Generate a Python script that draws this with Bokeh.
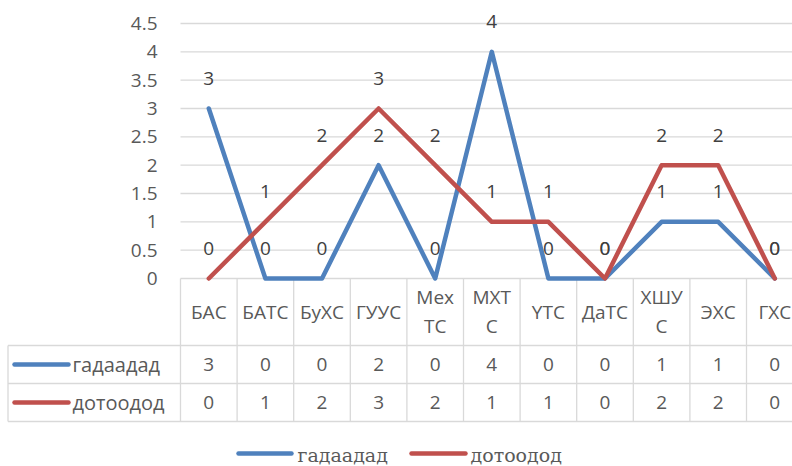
from bokeh.plotting import figure
from bokeh.models import Range1d
from bokeh.core.properties import value
from bokeh.embed import file_html
from bokeh.resources import INLINE

# ---- data ----
categories = ["БАС", "БАТС", "БуХС", "ГУУС", "Мех\nТС", "МХТ\nС", "ҮТС", "ДаТС", "ХШУ\nС", "ЭХС", "ГХС"]
series_names = ["гадаадад", "дотоодод"]
gadaadad = [3, 0, 0, 2, 0, 4, 0, 0, 1, 1, 0]
dotoodod = [0, 1, 2, 3, 2, 1, 1, 0, 2, 2, 0]
y_ticks = [0, 0.5, 1, 1.5, 2, 2.5, 3, 3.5, 4, 4.5]
y_tick_labels = ["0", "0.5", "1", "1.5", "2", "2.5", "3", "3.5", "4", "4.5"]

# ---- style / layout ----
BLUE = "#4f81bd"
RED = "#c0504d"
GRID = "#d9d9d9"
AXIS_TXT = "#595959"
LBL_TXT = "#404040"
FONT = "Open Sans"
SERIF = "DejaVu Serif"
FS = "19px"

FIG_W, FIG_H = 792, 466
ORIGIN = 0   # page pixel where the figure starts
PX = 56.6    # px per category
PY = 56.67   # px per value unit
FRAME_LEFT_PAGE = 180
ZERO_PAGE = 278

x_start = -0.5 - (FRAME_LEFT_PAGE - ORIGIN) / PX
x_end = x_start + FIG_W / PX
y_end = (ZERO_PAGE - ORIGIN) / PY
y_start = y_end - FIG_H / PY


def fx(page_x):
    return x_start + (page_x - ORIGIN) / PX


def fy(page_y):
    return y_end - (page_y - ORIGIN) / PY


p = figure(width=FIG_W, height=FIG_H, output_backend="svg", toolbar_location=None,
           x_range=Range1d(x_start, x_end), y_range=Range1d(y_start, y_end),
           min_border=0)
p.axis.visible = False
p.grid.visible = False
p.outline_line_color = None
p.background_fill_color = "white"
p.border_fill_color = "white"

n = len(categories)
idx = list(range(n))

# gridlines
p.segment(x0=[-0.5] * len(y_ticks), x1=[x_end + 1] * len(y_ticks), y0=y_ticks, y1=y_ticks,
          line_color=GRID, line_width=1.3)
# y tick labels
p.text(x=[fx(157)] * len(y_ticks), y=y_ticks, text=y_tick_labels, text_align="right",
       text_baseline="middle", text_font=value(FONT), text_font_size=FS, text_color=AXIS_TXT)

# table lines
row_tops = [fy(345), fy(383), fy(421)]
p.segment(x0=[k - 0.5 for k in range(n + 1)], x1=[k - 0.5 for k in range(n + 1)],
          y0=[0] * (n + 1), y1=[row_tops[-1]] * (n + 1), line_color=GRID, line_width=1.3)
p.segment(x0=[fx(7.5)] * 3, x1=[x_end + 1] * 3, y0=row_tops, y1=row_tops,
          line_color=GRID, line_width=1.3)
p.segment(x0=[fx(7.5)], x1=[fx(7.5)], y0=[row_tops[0]], y1=[row_tops[-1]],
          line_color=GRID, line_width=1.3)

# category labels
p.text(x=idx, y=[fy(311)] * n, text=categories, text_align="center", text_baseline="middle",
       text_font=value(FONT), text_font_size=FS, text_color=AXIS_TXT, text_line_height=1.12)

# series lines + data labels + table rows
row_centers = [fy(364), fy(402)]
for vals, color, name, ry in zip([gadaadad, dotoodod], [BLUE, RED], series_names, row_centers):
    p.line(x=idx, y=vals, line_color=color, line_width=4.5, line_join="round", line_cap="round")
    p.text(x=idx, y=vals, text=[str(v) for v in vals], y_offset=-30, text_align="center",
           text_baseline="middle", text_font=value(FONT), text_font_size=FS, text_color=LBL_TXT)
    p.text(x=idx, y=[ry] * n, text=[str(v) for v in vals], text_align="center",
           text_baseline="middle", text_font=value(FONT), text_font_size=FS, text_color=AXIS_TXT)
    # row legend key
    p.segment(x0=[fx(14)], x1=[fx(68)], y0=[ry], y1=[ry], line_color=color, line_width=4.5,
              line_cap="round")
    p.text(x=[fx(72)], y=[ry], text=[name], text_align="left", text_baseline="middle",
           text_font=value(FONT), text_font_size="20px", text_color=AXIS_TXT)

# bottom legend
for color, name, lx0, lx1, tx in zip([BLUE, RED], series_names, [238, 411], [291, 465], [297, 470]):
    p.segment(x0=[fx(lx0)], x1=[fx(lx1)], y0=[fy(453)], y1=[fy(453)], line_color=color,
              line_width=4.5, line_cap="round")
    p.text(x=[fx(tx)], y=[fy(454)], text=[name], text_align="left", text_baseline="alphabetic",
           text_font=value(SERIF), text_font_size="19px", text_color=AXIS_TXT)

open("out.html", "w").write(file_html(p, INLINE))
